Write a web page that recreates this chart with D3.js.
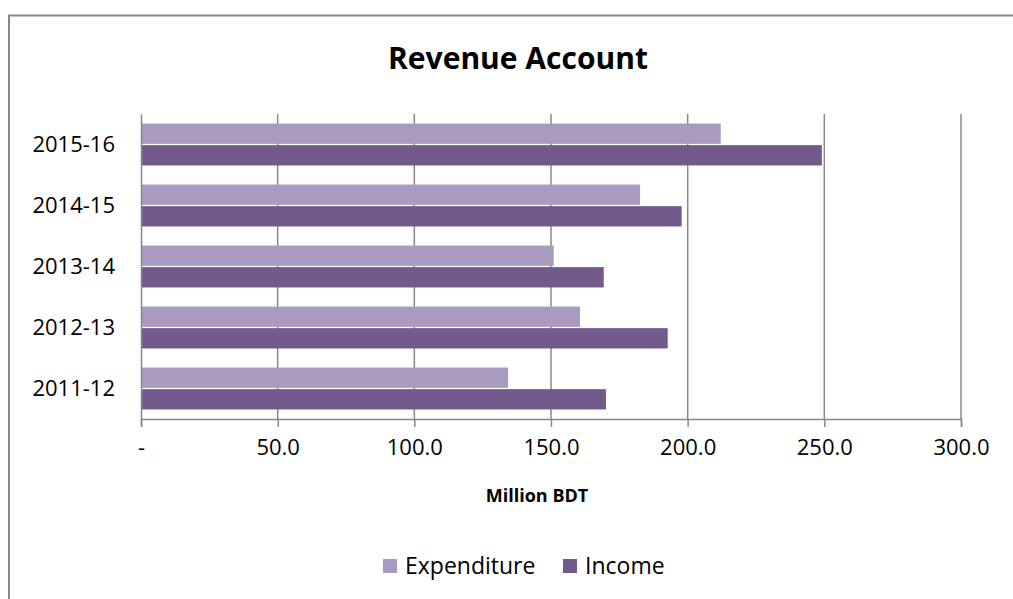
<!DOCTYPE html>
<html>
<head>
<meta charset="utf-8">
<script src="https://cdn.jsdelivr.net/npm/d3@7"></script>
<style>
  body { margin: 0; background: #fff; }
  text { font-family: "Open Sans", Lato, sans-serif; fill: #000; }
</style>
</head>
<body>
<div id="chart"></div>
<script>
// data
const years = ["2011-12", "2012-13", "2013-14", "2014-15", "2015-16"];
const expenditure = [134.3, 160.6, 151.0, 182.6, 212.1];
const income = [170.1, 192.7, 169.3, 197.8, 249.1];
const xTicks = [0, 50, 100, 150, 200, 250, 300];
const seriesNames = ["Expenditure", "Income"];
const colors = { Expenditure: "#a99bc0", Income: "#725a8d" };

const width = 1013, height = 599;
const margin = { top: 114, right: 52, bottom: 180, left: 141 };
const innerWidth = width - margin.left - margin.right;
const innerHeight = 419 - margin.top;
const font = "'Open Sans', Lato, sans-serif";

const svg = d3.select("#chart").append("svg")
  .attr("width", width)
  .attr("height", height);

// outer chart frame: only the left and top edges are in the picture
svg.append("path")
  .attr("d", `M9,${height} V15.5 H${width}`)
  .attr("fill", "none")
  .attr("stroke", "#888")
  .attr("stroke-width", 2);

svg.append("text")
  .attr("x", 518).attr("y", 69)
  .attr("text-anchor", "middle")
  .style("font-size", "30px")
  .style("font-weight", "bold")
  .text("Revenue Account");

const g = svg.append("g")
  .attr("transform", `translate(${margin.left},${margin.top})`);

const x = d3.scaleLinear().domain([0, 300]).range([0, innerWidth]);

// top category at the top
const y = d3.scaleBand()
  .domain(years.slice().reverse())
  .range([0, innerHeight])
  .paddingInner(0.27)
  .paddingOuter(0.135);

const y1 = d3.scaleBand()
  .domain(seriesNames)
  .range([0, y.bandwidth()])
  .padding(0.06);

// vertical gridlines
g.append("g")
  .selectAll("line")
  .data(xTicks.slice(1))
  .join("line")
  .attr("x1", d => x(d)).attr("x2", d => x(d))
  .attr("y1", 0).attr("y2", innerHeight)
  .attr("stroke", "#888")
  .attr("stroke-width", 1.5);

const rows = years.map((yr, i) => ({ year: yr, Expenditure: expenditure[i], Income: income[i] }));

const groups = g.append("g")
  .selectAll("g")
  .data(rows)
  .join("g")
  .attr("transform", d => `translate(0,${y(d.year)})`);

groups.selectAll("rect")
  .data(d => seriesNames.map(s => ({ key: s, value: d[s] })))
  .join("rect")
  .attr("x", 0)
  .attr("y", d => y1(d.key))
  .attr("width", d => x(d.value))
  .attr("height", y1.bandwidth())
  .attr("fill", d => colors[d.key]);

// x axis
const xAxis = g.append("g")
  .attr("transform", `translate(0,${innerHeight})`)
  .call(d3.axisBottom(x)
    .tickValues(xTicks)
    .tickSize(8)
    .tickPadding(12)
    .tickFormat(d => d === 0 ? "-" : d3.format(".1f")(d)));
xAxis.select(".domain").attr("stroke", "#888").attr("stroke-width", 1.5);
xAxis.selectAll(".tick line").attr("stroke", "#888").attr("stroke-width", 1.5);
xAxis.selectAll(".tick text")
  .style("font-size", "22px")
  .style("font-family", font)
  .attr("fill", "#000");

// y axis (no tick marks)
const yAxis = g.append("g")
  .call(d3.axisLeft(y).tickSize(0).tickPadding(26));
yAxis.select(".domain").attr("stroke", "#888").attr("stroke-width", 1.5);
yAxis.selectAll(".tick text")
  .style("font-size", "22px")
  .style("font-family", font)
  .attr("fill", "#000");

svg.append("text")
  .attr("x", 537).attr("y", 502)
  .attr("text-anchor", "middle")
  .style("font-size", "18px")
  .style("font-weight", "bold")
  .text("Million BDT");

// legend
const legendX = [383, 563];
const legend = svg.append("g")
  .selectAll("g")
  .data(seriesNames)
  .join("g")
  .attr("transform", (d, i) => `translate(${legendX[i]},559)`);
legend.append("rect")
  .attr("width", 14).attr("height", 14)
  .attr("fill", d => colors[d]);
legend.append("text")
  .attr("x", 22).attr("y", 15)
  .style("font-size", "23px")
  .text(d => d);
</script>
</body>
</html>
